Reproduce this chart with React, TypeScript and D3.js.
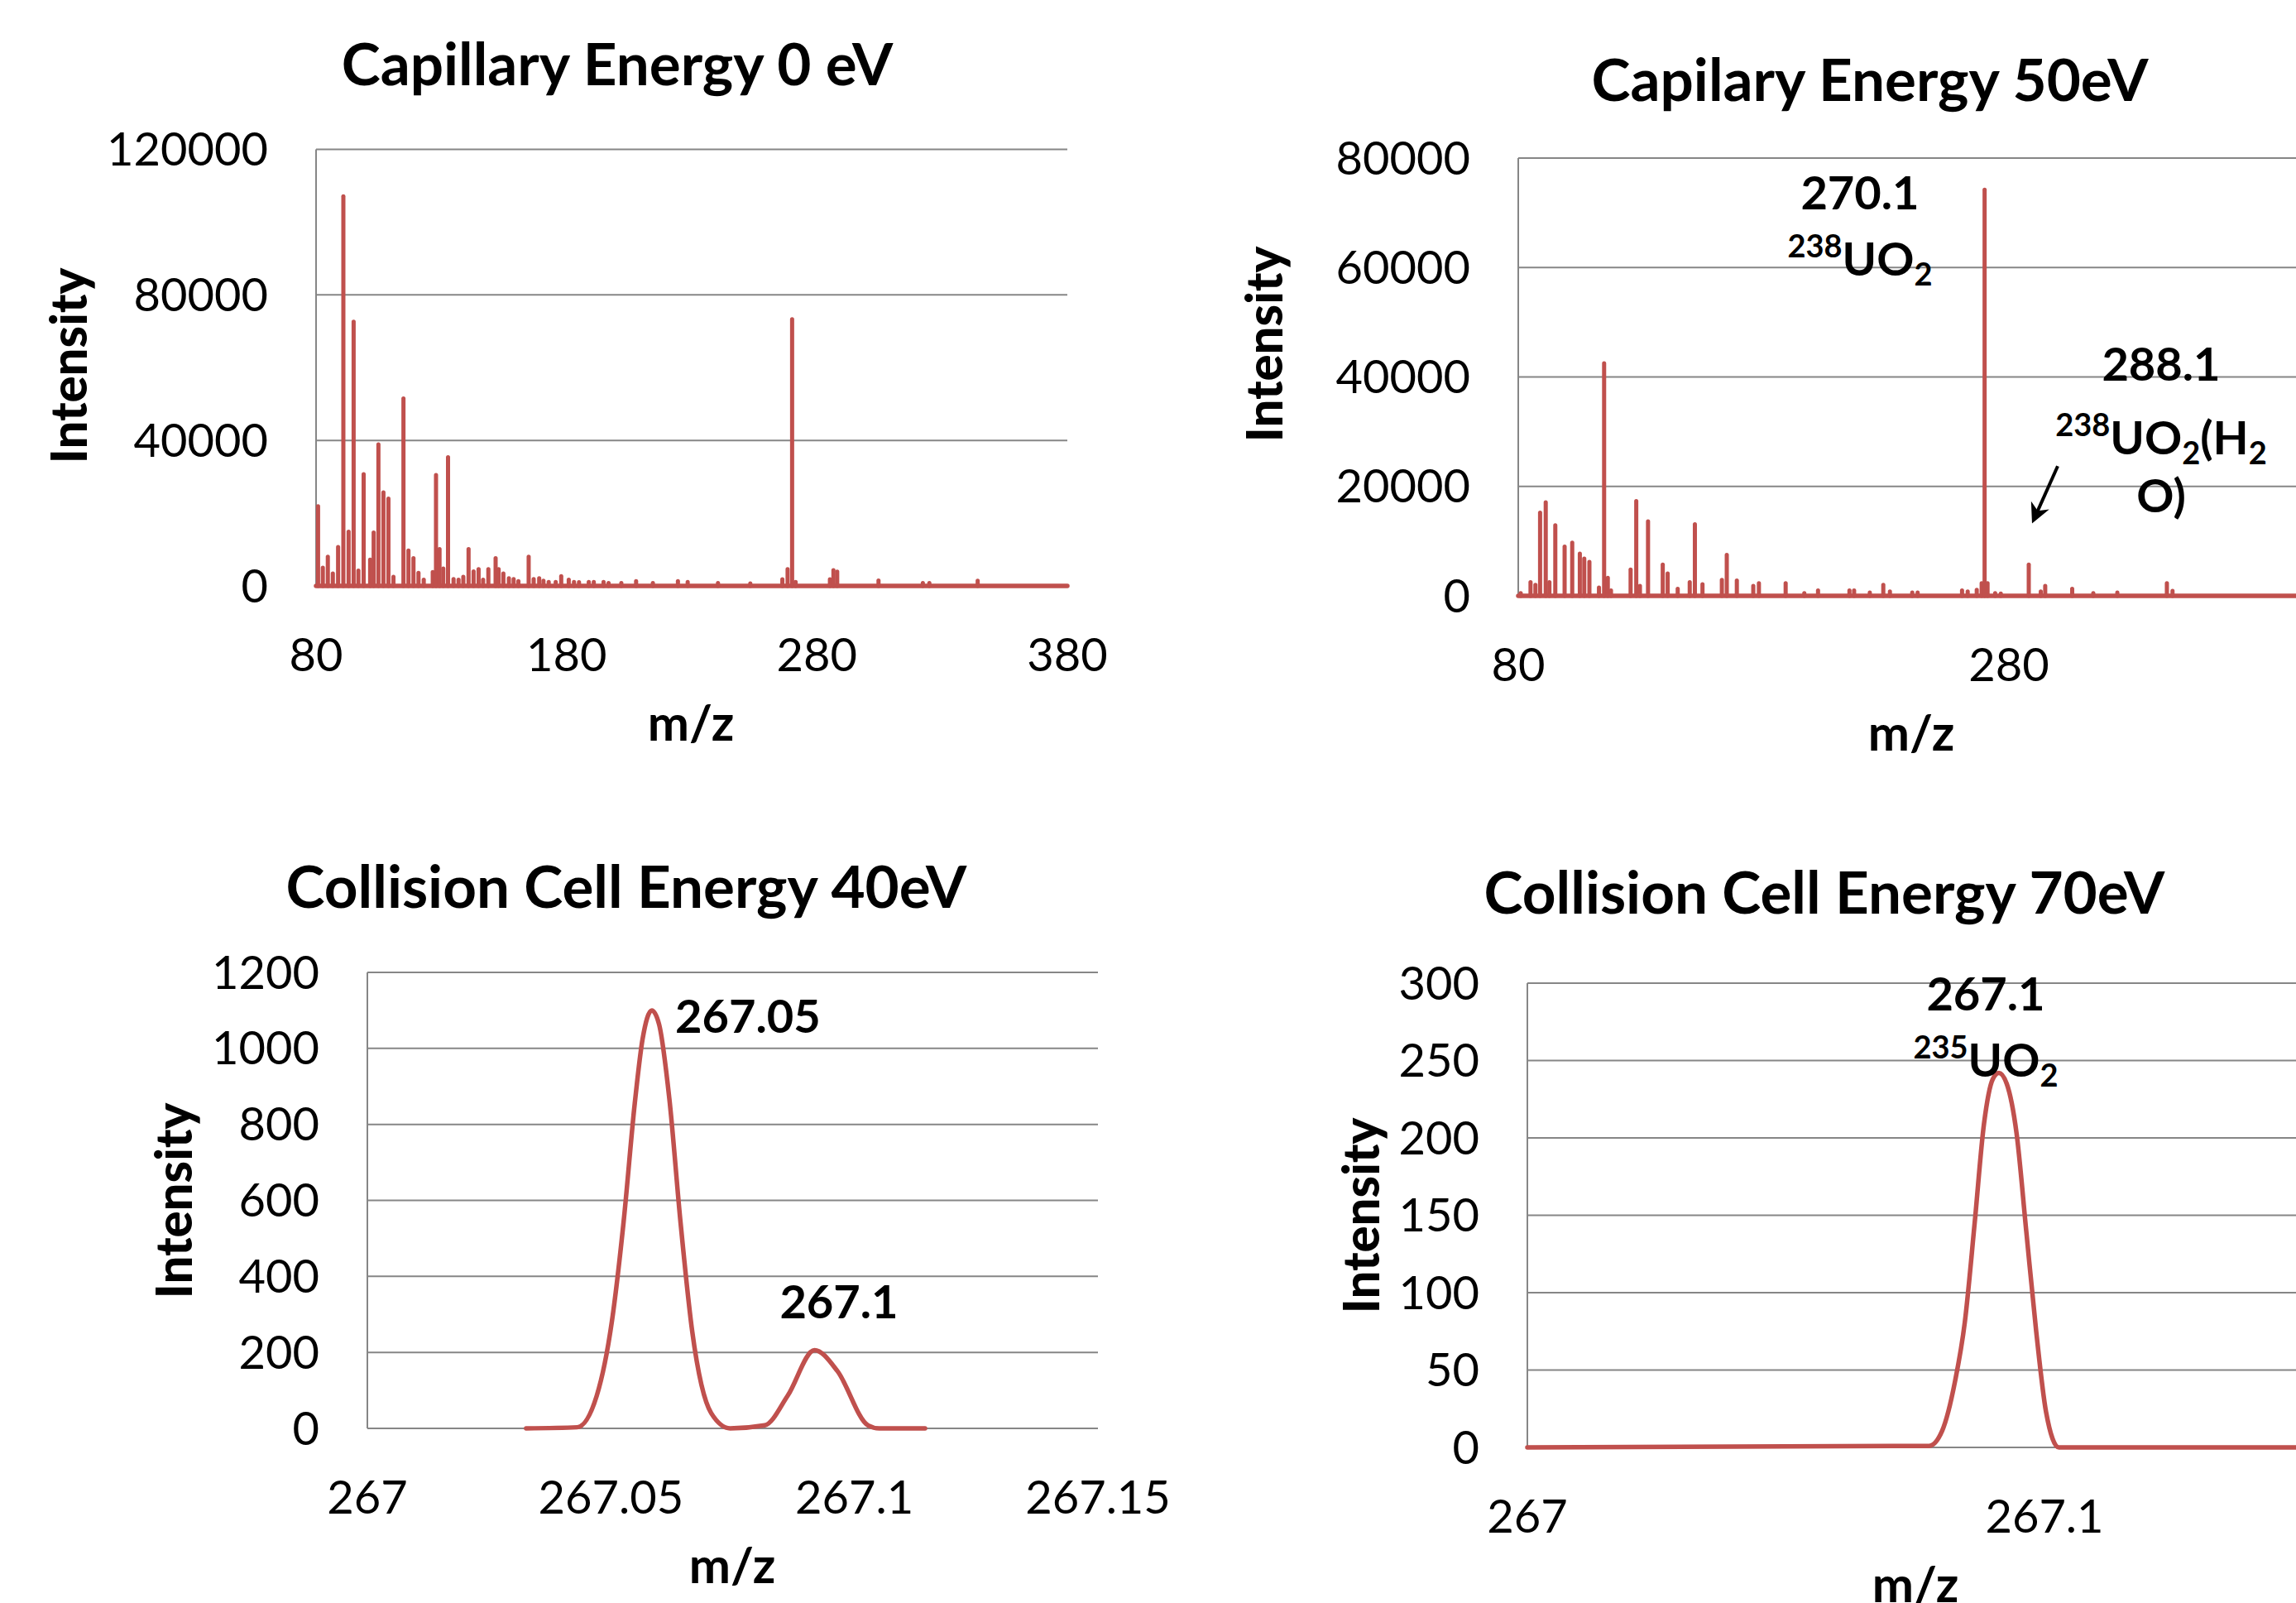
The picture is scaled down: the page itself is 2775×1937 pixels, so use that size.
import React from "react";
import * as d3 from "d3";

const W = 2775;
const H = 1937;
const RED = "#C0504D";
const GRID = "#868686";
const FONT = "Lato, 'Open Sans', sans-serif";

// Capillary Energy 0 eV – peak list
const cap0Mz = [80.8, 82.7, 84.7, 86.7, 88.8, 90.9, 93.0, 95.0, 96.9, 99.0, 101.6, 103.0, 104.9, 106.9, 108.9, 110.9, 114.9, 116.9, 118.9, 120.9, 123.0, 126.6, 127.9, 129.3, 130.8, 132.7, 134.9, 136.9, 138.8, 140.9, 142.9, 144.9, 146.7, 148.8, 151.7, 152.9, 154.8, 157.0, 158.9, 160.8, 164.9, 166.9, 169.1, 170.8, 172.9, 175.7, 177.9, 180.9, 183.0, 185.0, 188.9, 190.9, 194.8, 196.8, 201.9, 207.8, 214.5, 224.5, 228.4, 240.5, 253.4, 266.2, 268.3, 270.1, 271.5, 285.2, 286.6, 288.1, 304.6, 322.3, 324.9, 344.2];
const cap0Int = [21900, 5000, 8000, 3400, 10700, 107100, 14900, 72600, 4200, 30700, 7200, 14700, 38900, 25700, 24000, 2500, 51500, 9700, 7600, 3600, 1700, 3800, 30500, 10100, 4800, 35400, 1900, 1700, 2500, 10100, 4000, 4600, 1700, 4600, 7600, 4600, 3400, 2100, 1900, 1300, 8000, 1900, 2100, 1400, 1100, 1100, 2700, 1700, 1100, 1000, 1100, 1100, 1100, 800, 800, 1300, 800, 1300, 1100, 800, 700, 1800, 4600, 73300, 1100, 1800, 4300, 3900, 1500, 800, 800, 1400];

// Capilary Energy 50eV
const cap50Mz = [81, 85, 87, 88.9, 91.2, 92.7, 95.1, 98.9, 102, 105.1, 106.9, 109, 112.9, 115, 116.5, 117.8, 125.8, 128.1, 129.6, 132.9, 138.9, 140.9, 145, 149.9, 152, 155.1, 163, 165, 169.1, 175.8, 178.1, 189, 196.6, 202.2, 215, 216.9, 223.3, 228.8, 231.5, 240.6, 242.8, 260.9, 263.2, 266.9, 268.9, 270.1, 271.3, 274.4, 276.7, 288.1, 293, 294.8, 305.8, 314.4, 324.2, 344.4, 346.7];
const cap50Int = [500, 2500, 2000, 15200, 17100, 2500, 12900, 9000, 9700, 7700, 6800, 6200, 1500, 42500, 3300, 1000, 4800, 17300, 1800, 13600, 5700, 4100, 1300, 2500, 13100, 2100, 2900, 7500, 2800, 1800, 2300, 2300, 500, 1000, 1000, 1000, 600, 2000, 800, 600, 600, 1000, 800, 1100, 2300, 74200, 2300, 500, 400, 5700, 800, 1800, 1300, 500, 600, 2300, 900];

// Collision Cell Energy 40eV
const cc40Mz = [267.0326, 267.0431, 267.0471, 267.0502, 267.0526, 267.0549, 267.0565, 267.0584, 267.0599, 267.062, 267.0643, 267.0667, 267.0706, 267.0745, 267.0816, 267.0863, 267.0918, 267.0965, 267.1028, 267.1051, 267.1145];
const cc40Int = [0, 3, 86, 281, 542, 855, 1024, 1100, 1063, 868, 542, 255, 40, 0, 8, 86, 206, 151, 8, 0, 0];

// Collision Cell Energy 70eV
const cc70Mz = [267, 267.0777, 267.0802, 267.0827, 267.0846, 267.0865, 267.0883, 267.09, 267.0912, 267.0927, 267.0946, 267.0965, 267.0984, 267.1003, 267.1028, 267.155];
const cc70Int = [0, 1, 10.6, 42.6, 81, 145, 209, 238, 242, 235, 203, 139, 75, 23, 0, 0];

const p1YTicks = [0, 40000, 80000, 120000];
const p1XTicks = [80, 180, 280, 380];
const p2YTicks = [0, 20000, 40000, 60000, 80000];
const p2XTicks = [80, 280];
const p3YTicks = [0, 200, 400, 600, 800, 1000, 1200];
const p3XTicks = [267, 267.05, 267.1, 267.15];
const p4YTicks = [0, 50, 100, 150, 200, 250, 300];
const p4XTicks = [267, 267.1];

type Lin = d3.ScaleLinear<number, number>;

function Frame(props: {
  x: Lin; y: Lin; right: number;
  xTicks: number[]; yTicks: number[];
  title: string; titleX: number; titleY: number;
  yTitleX: number; yTitleY: number; xTitleX: number;
}) {
  const { x, y, right, xTicks, yTicks } = props;
  const left = x.range()[0];
  const bottom = y(0);
  const top = y(yTicks[yTicks.length - 1]);
  return (
    <g fontFamily={FONT}>
      {yTicks.map(t => (
        <line key={"g" + t} x1={left} x2={right} y1={y(t)} y2={y(t)} stroke={GRID} strokeWidth={2} />
      ))}
      <line x1={left} x2={left} y1={top} y2={bottom} stroke={GRID} strokeWidth={2} />
      {yTicks.map(t => (
        <text key={"y" + t} x={left - 58} y={y(t)} dy="0.35em" textAnchor="end" fontSize={56}>{t}</text>
      ))}
      {xTicks.map(t => (
        <text key={"x" + t} x={x(t)} y={bottom + 83} dy="0.35em" textAnchor="middle" fontSize={56}>{t}</text>
      ))}
      <text x={props.titleX} y={props.titleY} textAnchor="middle" fontSize={71} fontWeight="bold">{props.title}</text>
      <text transform={`translate(${props.yTitleX},${props.yTitleY}) rotate(-90)`} dy="0.35em" textAnchor="middle" fontSize={60} fontWeight="900">Intensity</text>
      <text x={props.xTitleX} y={bottom + 166} dy="0.35em" textAnchor="middle" fontSize={60} fontWeight="bold">m/z</text>
    </g>
  );
}

function Sticks({ x, y, mz, inten }: { x: Lin; y: Lin; mz: number[]; inten: number[] }) {
  const [d0, d1] = x.domain();
  return (
    <g stroke={RED} strokeLinecap="round">
      <line x1={x(d0)} x2={x(d1)} y1={y(0)} y2={y(0)} strokeWidth={5.5} />
      {mz.map((m, i) => (
        <line key={i} x1={x(m)} x2={x(m)} y1={y(0)} y2={y(inten[i])} strokeWidth={5} />
      ))}
    </g>
  );
}

function Profile({ x, y, mz, inten }: { x: Lin; y: Lin; mz: number[]; inten: number[] }) {
  const line = d3.line<number>().x((_, i) => x(mz[i])).y(d => y(d)).curve(d3.curveMonotoneX);
  return <path d={line(inten) || ""} fill="none" stroke={RED} strokeWidth={5.5} strokeLinejoin="round" strokeLinecap="round" />;
}

function Iso({ x, y, mass, tail }: { x: number; y: number; mass: string; tail?: boolean }) {
  return (
    <text x={x} y={y} textAnchor="middle" fontSize={56} fontWeight="bold" fontFamily={FONT}>
      <tspan fontSize={38} dy={-22}>{mass}</tspan>
      <tspan dy={22}>UO</tspan>
      <tspan fontSize={38} dy={12}>2</tspan>
      {tail && <tspan dy={-12}>(H</tspan>}
      {tail && <tspan fontSize={38} dy={12}>2</tspan>}
    </text>
  );
}

export default function App() {
  const x1 = d3.scaleLinear().domain([80, 380]).range([382, 1290]);
  const y1 = d3.scaleLinear().domain([0, 120000]).range([708, 180.5]);
  const x2 = d3.scaleLinear().domain([80, 480]).range([1835, 3021]);
  const y2 = d3.scaleLinear().domain([0, 80000]).range([720, 191]);
  const x3 = d3.scaleLinear().domain([267, 267.15]).range([444, 1327]);
  const y3 = d3.scaleLinear().domain([0, 1200]).range([1726, 1175]);
  const x4 = d3.scaleLinear().domain([267, 267.2]).range([1846, 3096]);
  const y4 = d3.scaleLinear().domain([0, 300]).range([1749, 1188]);

  return (
    <svg width={W} height={H} style={{ position: "absolute", left: 0, top: 0, background: "#fff" }}>
      <defs>
        <marker id="arr" viewBox="0 0 10 10" refX="8" refY="5" markerWidth="6" markerHeight="6" orient="auto">
          <path d="M0,0 L10,5 L0,10 L3,5 Z" fill="#000" />
        </marker>
      </defs>

      <Frame x={x1} y={y1} right={1290} xTicks={p1XTicks} yTicks={p1YTicks}
        title="Capillary Energy 0 eV" titleX={746} titleY={103} yTitleX={84} yTitleY={442} xTitleX={835} />
      <Sticks x={x1} y={y1} mz={cap0Mz} inten={cap0Int} />

      <Frame x={x2} y={y2} right={W} xTicks={p2XTicks} yTicks={p2YTicks}
        title="Capilary Energy 50eV" titleX={2260} titleY={122} yTitleX={1529} yTitleY={416} xTitleX={2310} />
      <Sticks x={x2} y={y2} mz={cap50Mz} inten={cap50Int} />
      <g fontFamily={FONT} fontWeight="bold" fontSize={56} textAnchor="middle">
        <text x={2248} y={253}>270.1</text>
        <text x={2612} y={460}>288.1</text>
        <text x={2612} y={619}>O)</text>
      </g>
      <Iso x={2248} y={333} mass="238" />
      <Iso x={2612} y={549} mass="238" tail />
      <line x1={x2(299.9)} y1={y2(23700)} x2={x2(290.1)} y2={y2(13900)} stroke="#000" strokeWidth={4} markerEnd="url(#arr)" />

      <Frame x={x3} y={y3} right={1327} xTicks={p3XTicks} yTicks={p3YTicks}
        title="Collision Cell Energy 40eV" titleX={757} titleY={1097} yTitleX={211} yTitleY={1451} xTitleX={885} />
      <Profile x={x3} y={y3} mz={cc40Mz} inten={cc40Int} />
      <g fontFamily={FONT} fontWeight="bold" fontSize={56}>
        <text x={816} y={1248}>267.05</text>
        <text x={1014} y={1593} textAnchor="middle">267.1</text>
      </g>

      <Frame x={x4} y={y4} right={W} xTicks={p4XTicks} yTicks={p4YTicks}
        title="Collision Cell Energy 70eV" titleX={2205} titleY={1104} yTitleX={1646} yTitleY={1469} xTitleX={2315} />
      <Profile x={x4} y={y4} mz={cc70Mz} inten={cc70Int} />
      <text x={2400} y={1221} textAnchor="middle" fontFamily={FONT} fontWeight="bold" fontSize={56}>267.1</text>
      <Iso x={2400} y={1301} mass="235" />
    </svg>
  );
}
